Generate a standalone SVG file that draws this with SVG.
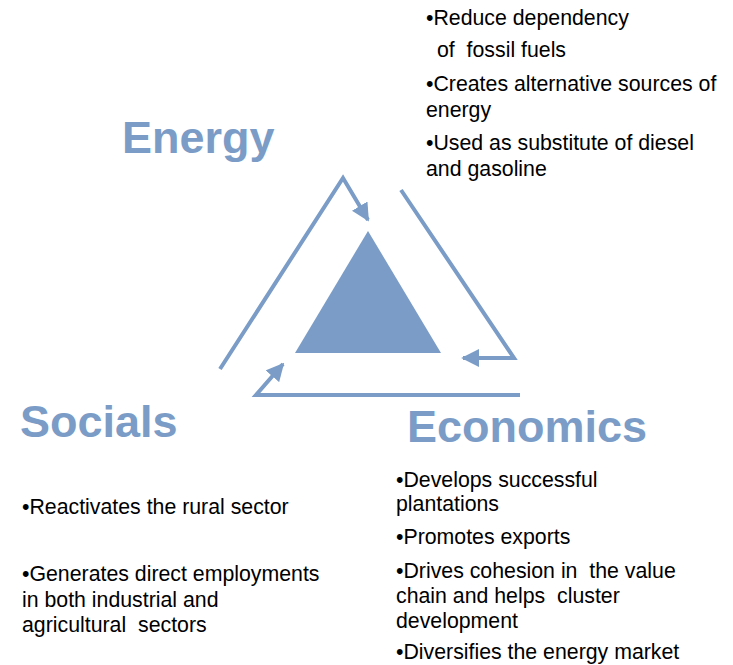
<svg xmlns="http://www.w3.org/2000/svg" width="733" height="665" viewBox="0 0 733 665" xml:space="preserve">
<defs>
<marker id="ah" viewBox="0 0 10 10" refX="9" refY="5" markerWidth="4.5" markerHeight="4.5" orient="auto" markerUnits="strokeWidth">
<path d="M0,0 L10,5 L0,10 z" fill="#7A9CC6"/>
</marker>
<style>
.title{font-family:"Liberation Sans",Arial,sans-serif;font-weight:bold;font-size:45px;fill:#7A9CC6}
.body{font-family:"Liberation Sans",Arial,sans-serif;font-size:21.3px;fill:#000;white-space:pre}
.conn{fill:none;stroke:#7A9CC6;stroke-width:4;stroke-linejoin:miter;marker-end:url(#ah)}
</style>
</defs>
<rect width="733" height="665" fill="#fff"/>
<g id="connectors">
<polyline class="conn" points="220,369 343,178 368,220"/>
<polyline class="conn" points="401,190 514,358 463,358"/>
<polyline class="conn" points="520,395 256,395 283,364"/>
</g>
<g id="core">
<polygon points="368,231 295,353 441,353" fill="#7A9CC6"/>
</g>
<g id="energy">
<text class="title" x="122" y="153">Energy</text>
<text class="body" x="426" y="25">•Reduce dependency</text>
<text class="body" x="437" y="57">of  fossil fuels</text>
<text class="body" x="426" y="91">•Creates alternative sources of</text>
<text class="body" x="426" y="117">energy</text>
<text class="body" x="426" y="150">•Used as substitute of diesel</text>
<text class="body" x="426" y="176">and gasoline</text>
</g>
<g id="socials">
<text class="title" x="20" y="437">Socials</text>
<text class="body" x="22" y="514">•Reactivates the rural sector</text>
<text class="body" x="22" y="581">•Generates direct employments</text>
<text class="body" x="22" y="607">in both industrial and</text>
<text class="body" x="22" y="632">agricultural  sectors</text>
</g>
<g id="economics">
<text class="title" x="407" y="442">Economics</text>
<text class="body" x="396" y="487">•Develops successful</text>
<text class="body" x="396" y="511">plantations</text>
<text class="body" x="396" y="544">•Promotes exports</text>
<text class="body" x="396" y="578">•Drives cohesion in  the value</text>
<text class="body" x="396" y="603">chain and helps  cluster</text>
<text class="body" x="396" y="628">development</text>
<text class="body" x="396" y="659">•Diversifies the energy market</text>
</g>
</svg>
